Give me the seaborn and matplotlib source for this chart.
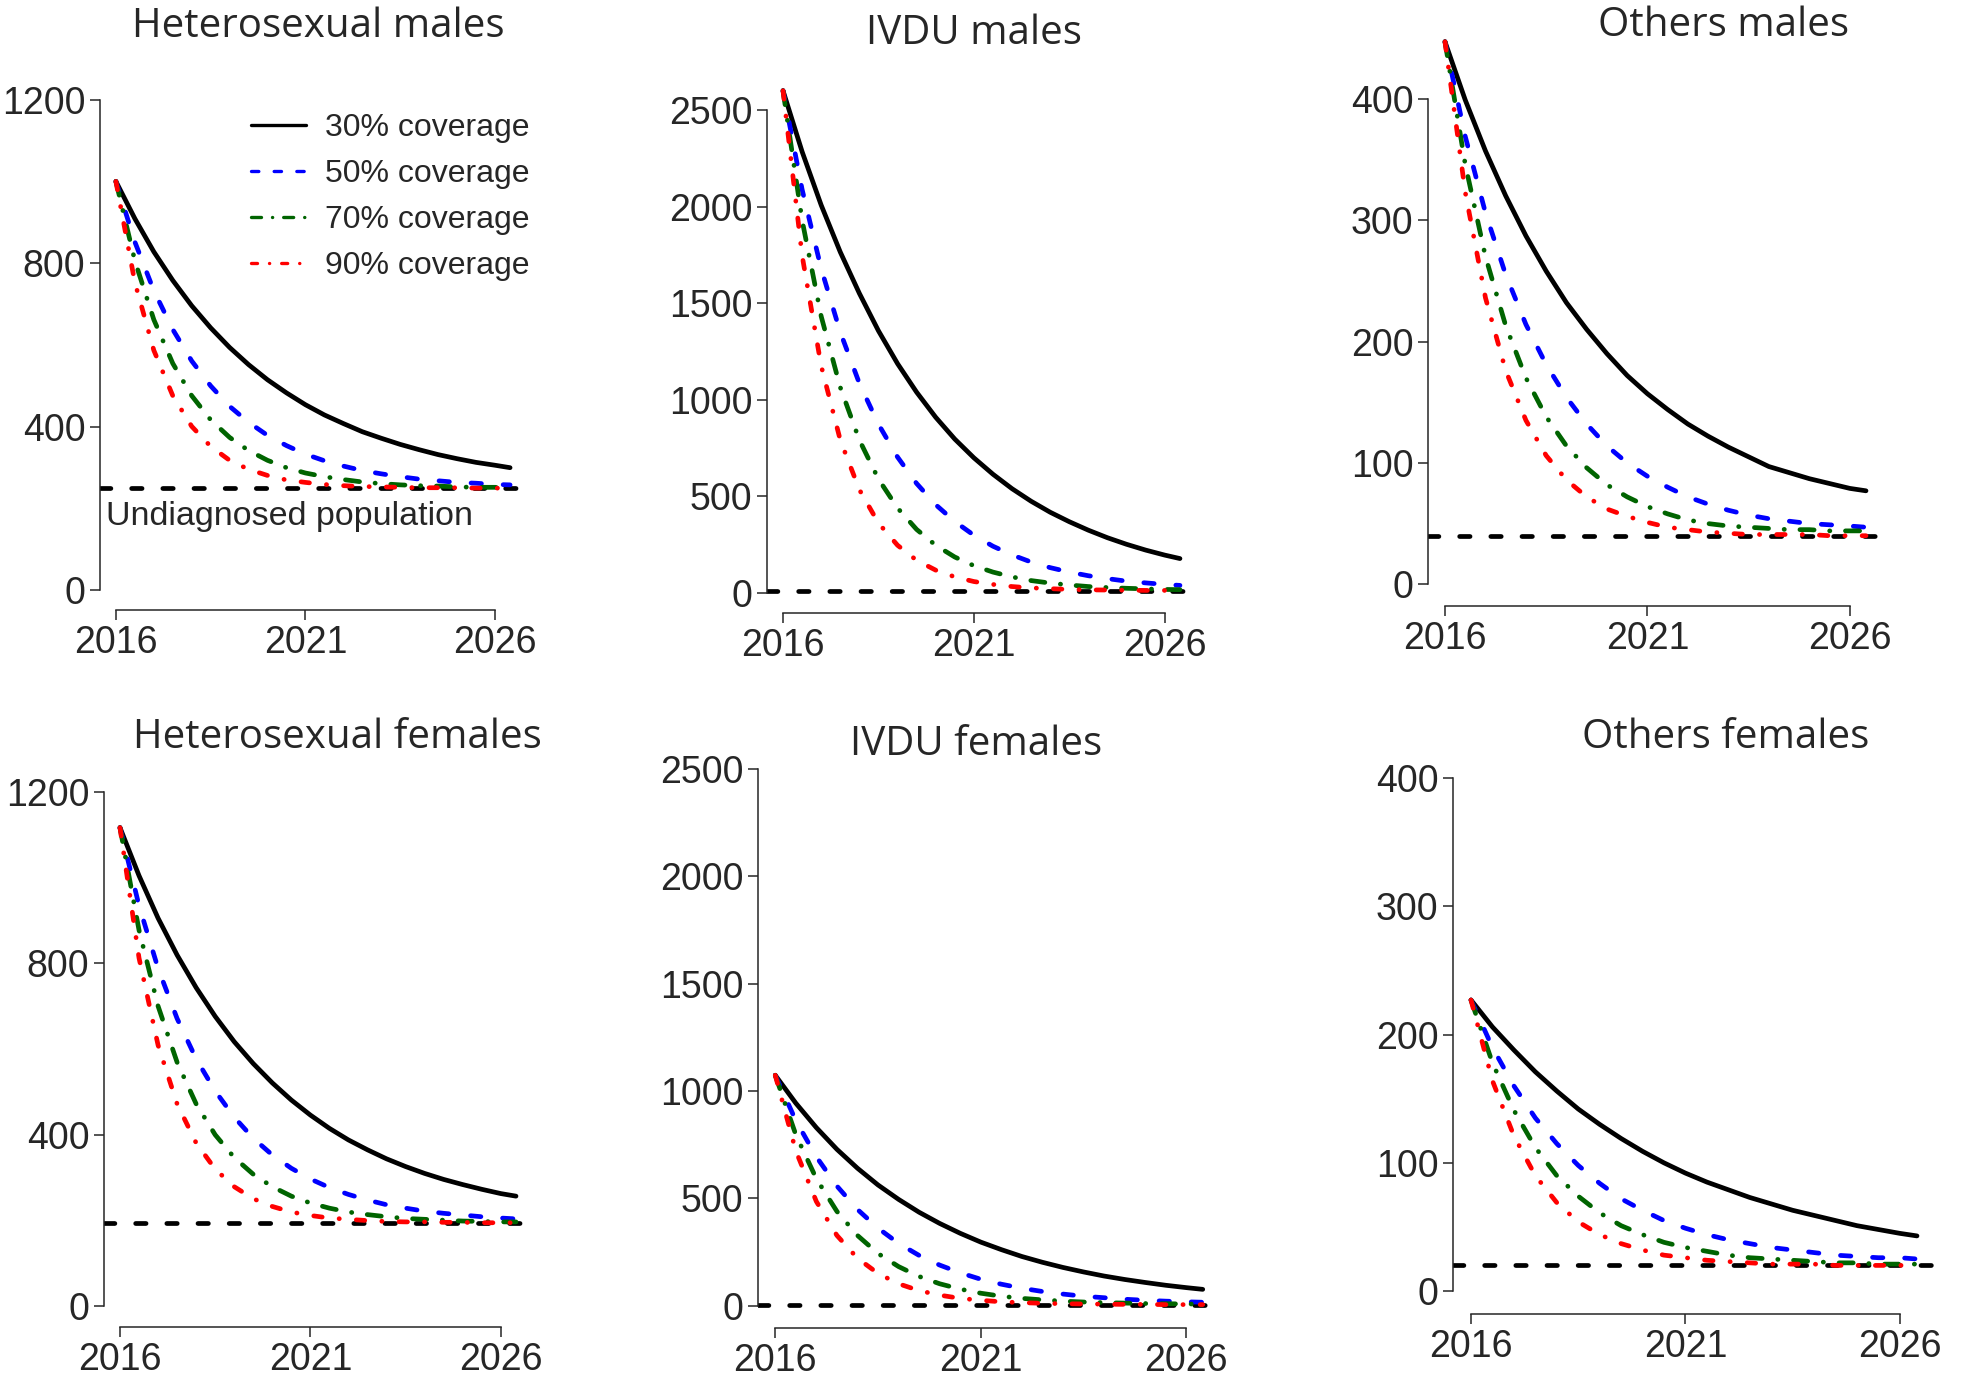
import pandas as pd
import matplotlib
matplotlib.use('Agg')
import matplotlib.pyplot as plt
from matplotlib import font_manager
from matplotlib.lines import Line2D
import seaborn as sns

# years of the projection (half-year steps)
years = [2016, 2016.5, 2017, 2017.5, 2018, 2018.5, 2019, 2019.5, 2020, 2020.5, 2021,
         2021.5, 2022, 2022.5, 2023, 2023.5, 2024, 2024.5, 2025, 2025.5, 2026, 2026.4]
coverage = ['30% coverage', '50% coverage', '70% coverage', '90% coverage']

# heterosexual males
het_m_30 = [1000, 909, 828, 758, 696, 642, 594, 552, 515, 483, 454, 429, 408, 388, 372, 357, 344, 332, 322, 313, 306, 300]
het_m_50 = [1000, 852, 733, 638, 561, 500, 450, 411, 379, 354, 333, 317, 304, 293, 285, 278, 272, 268, 264, 262, 259, 258]
het_m_70 = [1000, 806, 662, 555, 476, 417, 374, 342, 318, 300, 287, 278, 271, 265, 261, 258, 256, 255, 253, 252, 252, 251]
het_m_90 = [1000, 753, 587, 476, 401, 352, 318, 296, 281, 270, 264, 259, 256, 254, 253, 252, 251, 251, 251, 250, 250, 250]

# IVDU males
ivdu_m_30 = [2602, 2286, 2009, 1766, 1552, 1358, 1188, 1040, 910, 797, 700, 615, 540, 475, 418, 369, 325, 286, 252, 222, 196, 178]
ivdu_m_50 = [2602, 2090, 1680, 1351, 1086, 874, 704, 567, 457, 370, 299, 242, 197, 160, 131, 108, 89, 74, 61, 52, 44, 39]
ivdu_m_70 = [2602, 1931, 1433, 1065, 792, 590, 440, 329, 247, 186, 141, 108, 83, 64, 51, 41, 33, 28, 24, 21, 18, 17]
ivdu_m_90 = [2602, 1748, 1176, 792, 535, 362, 247, 169, 118, 83, 59, 44, 33, 26, 22, 18, 16, 15, 14, 13, 13, 13]

# others males
oth_m_30 = [447, 399, 357, 320, 287, 258, 232, 210, 190, 172, 157, 144, 132, 122, 113, 105, 97, 92, 87, 83, 79, 77]
oth_m_50 = [447, 369, 306, 255, 214, 181, 154, 132, 114, 100, 89, 80, 72, 66, 61, 57, 54, 52, 50, 49, 48, 47]
oth_m_70 = [447, 346, 270, 213, 170, 138, 114, 96, 82, 72, 64, 58, 53, 50, 48, 47, 46, 45, 45, 44, 44, 44]
oth_m_90 = [447, 323, 236, 176, 135, 106, 86, 72, 62, 56, 51, 47, 45, 43, 42, 41, 41, 41, 41, 40, 40, 40]

# heterosexual females
het_f_30 = [1116, 1004, 905, 819, 743, 676, 617, 566, 521, 481, 446, 415, 388, 365, 344, 326, 310, 296, 284, 273, 263, 257]
het_f_50 = [1116, 934, 788, 671, 577, 502, 441, 392, 353, 322, 297, 277, 261, 248, 237, 229, 222, 217, 213, 209, 206, 204]
het_f_70 = [1116, 877, 700, 569, 472, 400, 347, 308, 279, 257, 241, 229, 220, 214, 209, 205, 203, 201, 199, 198, 197, 197]
het_f_90 = [1116, 812, 609, 472, 381, 320, 279, 251, 233, 220, 212, 206, 203, 200, 198, 197, 197, 196, 196, 195, 195, 195]

# IVDU females
ivdu_f_30 = [1073, 943, 829, 728, 640, 562, 495, 435, 383, 337, 296, 261, 229, 202, 178, 157, 138, 122, 108, 95, 84, 76]
ivdu_f_50 = [1073, 862, 693, 557, 448, 361, 290, 234, 189, 153, 123, 100, 81, 66, 54, 44, 37, 30, 25, 21, 18, 16]
ivdu_f_70 = [1073, 796, 591, 439, 327, 243, 182, 136, 102, 77, 58, 44, 34, 27, 21, 17, 14, 12, 10, 9, 8, 7]
ivdu_f_90 = [1073, 721, 485, 327, 221, 150, 102, 70, 49, 34, 25, 18, 14, 11, 9, 8, 7, 6, 6, 5, 5, 5]

# others females
oth_f_30 = [227, 206, 188, 171, 156, 142, 130, 119, 109, 100, 92, 85, 79, 73, 68, 63, 59, 55, 51, 48, 45, 43]
oth_f_50 = [227, 190, 160, 135, 115, 98, 84, 72, 63, 55, 49, 44, 40, 37, 34, 32, 30, 28, 27, 26, 26, 25]
oth_f_70 = [227, 178, 141, 112, 90, 74, 61, 51, 44, 38, 34, 31, 28, 26, 25, 24, 23, 22, 22, 21, 21, 21]
oth_f_90 = [227, 164, 121, 90, 69, 54, 44, 37, 32, 28, 26, 24, 23, 22, 21, 21, 21, 20, 20, 20, 20, 20]

titles = ['Heterosexual males', 'IVDU males', 'Others males',
          'Heterosexual females', 'IVDU females', 'Others females']
undiagnosed = [250, 10, 40, 195, 5, 20]
panel_series = [
    [het_m_30, het_m_50, het_m_70, het_m_90],
    [ivdu_m_30, ivdu_m_50, ivdu_m_70, ivdu_m_90],
    [oth_m_30, oth_m_50, oth_m_70, oth_m_90],
    [het_f_30, het_f_50, het_f_70, het_f_90],
    [ivdu_f_30, ivdu_f_50, ivdu_f_70, ivdu_f_90],
    [oth_f_30, oth_f_50, oth_f_70, oth_f_90],
]
yticks_all = [[0, 400, 800, 1200], [0, 500, 1000, 1500, 2000, 2500], [0, 100, 200, 300, 400]] * 2
ylims_all = [(-48, 1248), (-104, 2704), (-17.9, 464.9)] * 2

# panel boxes in pixels: left, top, right, bottom
W, H = 1961, 1383
boxes = [(100, 80, 526, 610), (767, 71, 1196, 613), (1428, 20, 1883, 606),
         (104, 771, 532, 1327), (758, 725, 1220, 1328), (1453, 695, 1935, 1314)]
title_pos = [(318, 27), (974, 34), (1723, 26), (337, 738), (976, 745), (1726, 738)]

sns.set_style("ticks")

# narrow sans for numbers if we have it
names = {f.name for f in font_manager.fontManager.ttflist}
if 'Liberation Sans Narrow' in names:
    plt.rcParams['font.family'] = ['Liberation Sans Narrow', 'DejaVu Sans']
    tick_size, leg_size, note_size = 29, 26, 29
else:
    plt.rcParams['font.family'] = ['Liberation Sans', 'DejaVu Sans']
    tick_size, leg_size, note_size = 27, 23, 24.5

palette = {'30% coverage': 'black', '50% coverage': '#0000ff',
           '70% coverage': '#006400', '90% coverage': '#ff0000'}
dashes = {'30% coverage': '', '50% coverage': (2.2, 4.6),
          '70% coverage': (3.0, 3.3, 0.05, 3.3), '90% coverage': (1.8, 3.6, 0.05, 3.6)}

fig = plt.figure(figsize=(W / 100, H / 100), dpi=100)

for i in range(6):
    l, t, r, b = boxes[i]
    ax = fig.add_axes([l / W, 1 - b / H, (r - l) / W, (b - t) / H])
    rows = []
    for cov, vals in zip(coverage, panel_series[i]):
        for yr, v in zip(years, vals):
            rows.append({'year': yr, 'value': v, 'coverage': cov})
    df = pd.DataFrame(rows)
    sns.lineplot(data=df, x='year', y='value', hue='coverage', style='coverage',
                 palette=palette, dashes=dashes, linewidth=3.4, legend=False, ax=ax,
                 dash_capstyle='round', solid_capstyle='round')
    ax.axhline(undiagnosed[i], color='black', linewidth=3.4, dashes=(2.2, 4.4),
               dash_capstyle='round', zorder=1)

    ax.set_xlim(2015.58, 2026.82)
    ax.set_ylim(*ylims_all[i])
    ax.set_xticks([2016, 2021, 2026])
    ax.set_yticks(yticks_all[i])
    ax.set_xlabel('')
    ax.set_ylabel('')
    sns.despine(ax=ax)
    ax.spines['left'].set_bounds(0, yticks_all[i][-1])
    ax.spines['bottom'].set_bounds(2016, 2026)
    for s in ['left', 'bottom']:
        ax.spines[s].set_linewidth(1.1)
    ax.tick_params(length=7.5, width=1.1, labelsize=tick_size, pad=3)
    ax.patch.set_alpha(0)

    fig.text(title_pos[i][0] / W, 1 - title_pos[i][1] / H, titles[i],
             ha='center', va='center', fontsize=29, family=['Open Sans', 'DejaVu Sans'])

    if i == 0:
        ax.text(2015.75, 180, 'Undiagnosed population', fontsize=note_size, va='center', ha='left')
        handles = [Line2D([], [], color=palette[c], linewidth=2.4, dash_capstyle='round',
                          solid_capstyle='round',
                          **({'dashes': dashes[c]} if dashes[c] else {}))
                   for c in coverage]
        ax.legend(handles, coverage, loc='upper left', bbox_to_anchor=(0.355, 0.937),
                  frameon=False, fontsize=leg_size, handlelength=55 / (leg_size * 100 / 72),
                  handletextpad=0.6, labelspacing=0.5, borderaxespad=0, borderpad=0)

fig.savefig('out.png', dpi=100)
